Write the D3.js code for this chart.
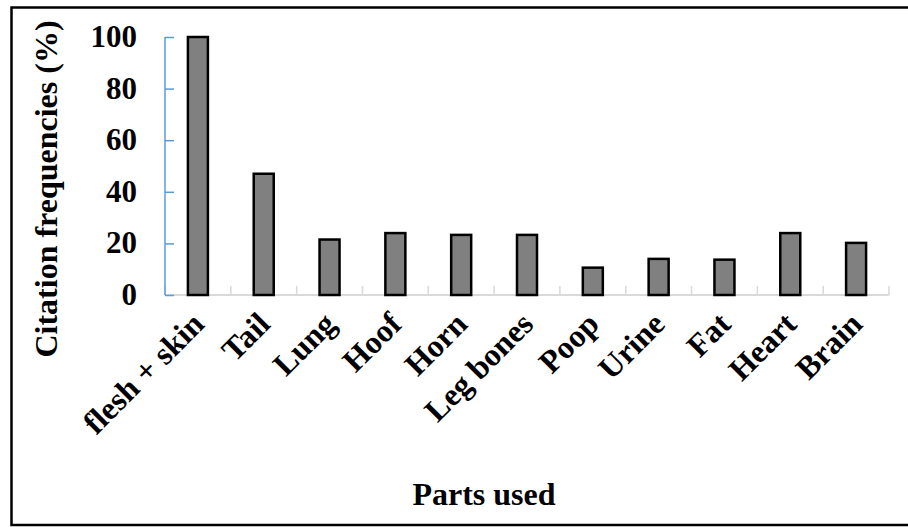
<!DOCTYPE html>
<html>
<head>
<meta charset="utf-8">
<script src="https://cdn.jsdelivr.net/npm/d3@7"></script>
<style>
body{margin:0;background:#fff;}
svg text{font-family:"Liberation Serif","Times New Roman",serif;font-weight:bold;fill:#000;}
</style>
</head>
<body>
<script>
// chart data
var parts = ["flesh + skin","Tail","Lung","Hoof","Horn","Leg bones","Poop","Urine","Fat","Heart","Brain"];
var freq = [100,47,21.5,24,23.3,23.3,10.6,14,13.7,24,20.2];
var yTicks = [0,20,40,60,80,100];

var width = 908, height = 527;
var mLeft = 165, mRight = 889, mTop = 37, mBottom = 295;

var svg = d3.select("body").append("svg")
            .attr("width",width)
            .attr("height",height);

// frame round the figure (right side runs off the picture)
svg.append("path")
   .attr("d","M912,7.5 H11.5 V525 H912")
   .attr("fill","none")
   .attr("stroke","#000")
   .attr("stroke-width",2.5);

var x = d3.scaleBand().domain(parts).range([mLeft,mRight]);
var y = d3.scaleLinear().domain([0,100]).range([mBottom,mTop]);

// x axis: light grey baseline with ticks between categories
svg.append("line")
   .attr("x1",mLeft).attr("x2",mRight)
   .attr("y1",mBottom).attr("y2",mBottom)
   .attr("stroke","#d9d9d9").attr("stroke-width",2);
var bounds = parts.map(function(p){return x(p);}).concat([mRight]);
svg.selectAll(".xtick").data(bounds).enter().append("line")
   .attr("class","xtick")
   .attr("x1",function(d){return d;}).attr("x2",function(d){return d;})
   .attr("y1",mBottom-9).attr("y2",mBottom)
   .attr("stroke","#d9d9d9").attr("stroke-width",1.5);

// y axis in blue, ticks pointing into the plot
var yAxis = d3.axisRight(y).tickValues(yTicks).tickSize(9).tickFormat("");
var gy = svg.append("g").attr("transform","translate("+mLeft+",0)").call(yAxis);
gy.select(".domain").attr("stroke","#5b9bd5").attr("stroke-width",1.5).attr("d","M0,"+mTop+"V"+mBottom);
gy.selectAll(".tick line").attr("stroke","#5b9bd5").attr("stroke-width",1.5);

svg.selectAll(".ylab").data(yTicks).enter().append("text")
   .attr("class","ylab")
   .attr("x",137)
   .attr("y",function(d){return y(d)+10;})
   .attr("text-anchor","end")
   .style("font-size","31px")
   .text(function(d){return d;});

// bars
var barW = 20;
svg.selectAll(".bar").data(freq).enter().append("rect")
   .attr("class","bar")
   .attr("x",function(d,i){return x(parts[i])+x.bandwidth()/2-barW/2;})
   .attr("y",function(d){return y(d);})
   .attr("width",barW)
   .attr("height",function(d){return mBottom-y(d);})
   .attr("fill","#808080")
   .attr("stroke","#000")
   .attr("stroke-width",2.5);

// rotated category labels
svg.selectAll(".xlab").data(parts).enter().append("text")
   .attr("class","xlab")
   .attr("text-anchor","end")
   .attr("transform",function(d){
       var cx = x(d)+x.bandwidth()/2+8;
       return "translate("+cx+",326) rotate(-45)";
   })
   .style("font-size","32px")
   .text(function(d){return d;});

// axis titles
svg.append("text")
   .attr("x",484).attr("y",505)
   .attr("text-anchor","middle")
   .style("font-size","32px")
   .text("Parts used");
svg.append("text")
   .attr("transform","translate(57,189) rotate(-90)")
   .attr("text-anchor","middle")
   .style("font-size","32px")
   .text("Citation frequencies (%)");
</script>
</body>
</html>
